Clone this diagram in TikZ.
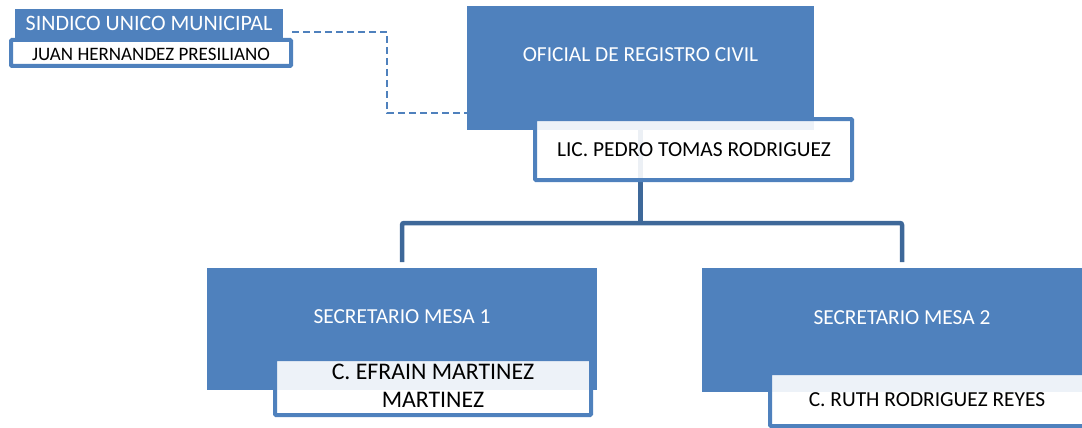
\documentclass[tikz,border=0pt]{standalone}
\usepackage{fontspec}
\setmainfont{Carlito}
\definecolor{boxblue}{HTML}{4F81BD}
\definecolor{linkblue}{HTML}{3E6899}
\begin{document}
\begin{tikzpicture}[x=1pt,y=-1pt,
  rolebox/.style={rectangle, fill=boxblue, draw=none, inner sep=0pt},
  namebox/.style={rectangle, fill=white, fill opacity=0.9, text opacity=1, draw=boxblue, line width=4pt, inner sep=0pt, rounded corners=1pt},
  roletext/.style={text=white, font=\fontsize{21.4}{24}\selectfont, inner sep=0pt},
  nametext/.style={text=black, font=\fontsize{21.4}{24}\selectfont, inner sep=0pt, align=center},
  link/.style={draw=linkblue, line width=4.5pt, rounded corners=2pt},
  dlink/.style={draw=boxblue, line width=1.8pt, dash pattern=on 7pt off 4pt}]
\useasboundingbox (0,0) rectangle (1082,428);
\clip (0,0) rectangle (1082,428);

% role boxes
\node[rolebox, minimum width=268pt, minimum height=29pt] (sind) at (149,23.5) {};
\node[rolebox, minimum width=347pt, minimum height=124pt] (ofic) at (640.5,68) {};
\node[rolebox, minimum width=390pt, minimum height=122pt] (sec1) at (402,329) {};
\node[rolebox, minimum width=398pt, minimum height=124pt] (sec2) at (901,330) {};

% connectors
\coordinate (j) at (640.5,223);
\coordinate (a) at (402,262);
\coordinate (b) at (902,262);
\draw[link] (ofic.south) -- (j);
\draw[link] (a) |- (j) -| (b);
\coordinate (d1) at (387,32);
\coordinate (d2) at (387,113);
\draw[dlink] (292,32) -- (d1) -- (d2) -- (d2 -| ofic.west);

% name boxes
\node[namebox, minimum width=280pt, minimum height=26pt] (juan) at (151,53) {};
\node[namebox, minimum width=317pt, minimum height=61pt] (lic) at (693.5,149.5) {};
\node[namebox, minimum width=316pt, minimum height=56pt] (n1) at (433,387) {};
\node[namebox, minimum width=316pt, minimum height=53pt] (n2) at (928,399.5) {};

% texts
\node[roletext, font=\fontsize{22}{24}\selectfont] (tsind) at (149,23) {SINDICO UNICO MUNICIPAL};
\node[nametext, font=\fontsize{19}{22}\selectfont] (tjuan) at (151,54) {JUAN HERNANDEZ PRESILIANO};
\node[roletext] (tofic) at (640.5,55) {OFICIAL DE REGISTRO CIVIL};
\node[nametext] (tlic) at (694,150) {LIC. PEDRO TOMAS RODRIGUEZ};
\node[roletext] (tsec1) at (402,317) {SECRETARIO MESA 1};
\node[roletext] (tsec2) at (902,318) {SECRETARIO MESA 2};
\node[nametext, font=\fontsize{23.8}{28}\selectfont] (tn1) at (433,386) {C. EFRAIN MARTINEZ\\MARTINEZ};
\node[nametext] (tn2) at (927,400) {C. RUTH RODRIGUEZ REYES};
\end{tikzpicture}
\end{document}
